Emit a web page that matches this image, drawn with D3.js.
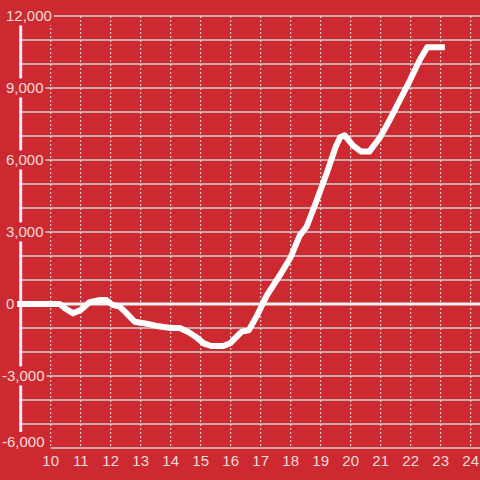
<!DOCTYPE html>
<html><head><meta charset="utf-8">
<script src="https://cdn.jsdelivr.net/npm/d3@7"></script>
<style>html,body{margin:0;padding:0;background:#cc2a30;}svg{display:block;}</style>
</head><body>
<script>
// Data: hour of day and value
const hours = [8.88,10.3,10.5,10.75,11.0,11.3,11.65,11.85,12.05,12.3,12.5,12.8,13.2,13.6,14.0,14.3,14.6,14.87,15.1,15.35,15.75,15.98,16.2,16.37,16.6,16.87,17.2,17.64,18.0,18.3,18.53,18.87,19.2,19.5,19.65,19.8,20.08,20.35,20.62,20.98,21.3,21.64,21.98,22.3,22.55,23.14];
const values = [0,0,-200,-390,-250,80,170,170,-30,-110,-350,-740,-820,-930,-1000,-1000,-1180,-1400,-1640,-1750,-1750,-1640,-1360,-1150,-1100,-500,350,1200,1950,2850,3220,4330,5450,6550,6950,7030,6600,6350,6350,6950,7670,8500,9330,10170,10700,10700];
const xTicks = [10,11,12,13,14,15,16,17,18,19,20,21,22,23,24];
const yGrid = d3.range(-6000, 12001, 1000);
const yLabels = [12000,9000,6000,3000,0,-3000,-6000];

const W = 480, H = 480, bg = "#cc2a30";
const x = d3.scaleLinear().domain([10, 24]).range([50.7, 470.7]);
const y = d3.scaleLinear().domain([-6000, 12000]).range([448, 16]);

const svg = d3.select("body").append("svg").attr("width", W).attr("height", H);
svg.append("rect").attr("width", W).attr("height", H).attr("fill", bg);

// horizontal gridlines
svg.append("g").selectAll("line").data(yGrid.filter(v => v !== 0 && v !== -6000)).join("line")
  .attr("x1", 22).attr("x2", W).attr("y1", d => y(d)).attr("y2", d => y(d))
  .attr("stroke", "#cfcfcf").attr("stroke-width", 1.5);
// bottom axis line
svg.append("line").attr("x1", x(10)).attr("x2", W).attr("y1", y(-6000)).attr("y2", y(-6000))
  .attr("stroke", "#cfcfcf").attr("stroke-width", 1.5);

// vertical dotted gridlines
svg.append("g").selectAll("line").data(xTicks).join("line")
  .attr("x1", d => x(d)).attr("x2", d => x(d)).attr("y1", y(12000)).attr("y2", y(-6000))
  .attr("stroke", "#e6e6e6").attr("stroke-width", 1).attr("stroke-dasharray", "2,2");

// zero line
svg.append("line").attr("x1", 22).attr("x2", W).attr("y1", y(0)).attr("y2", y(0))
  .attr("stroke", "#f2f2f2").attr("stroke-width", 3);

// y axis line
svg.append("line").attr("x1", 20.7).attr("x2", 20.7).attr("y1", y(12000)).attr("y2", y(-6000))
  .attr("stroke", "#eeeeee").attr("stroke-width", 3);

// data line
const pts = hours.map((h, i) => [h, values[i]]);
svg.append("path").datum(pts)
  .attr("d", d3.line().x(d => x(d[0])).y(d => y(d[1])).curve(d3.curveLinear))
  .attr("fill", "none").attr("stroke", "#ffffff").attr("stroke-width", 6)
  .attr("stroke-linejoin", "round").attr("stroke-linecap", "butt");

// y labels with background
const fmt = d3.format(",");
const ly = svg.append("g");
yLabels.forEach(v => {
  const g = ly.append("g");
  const base = Math.min(y(v) + 5.4, y(-6000) - 1);
  const t = g.append("text").attr("x", v < 0 ? 2 : 6).attr("y", base)
    .attr("font-family", "Liberation Sans, Arial, sans-serif").attr("font-size", 15)
    .attr("fill", "#f5dadb").text(fmt(v).replace("−", "-"));
  const b = t.node().getBBox();
  g.insert("rect", "text").attr("x", 0).attr("y", b.y - 1).attr("width", b.x + b.width + 2)
    .attr("height", b.height + 2).attr("fill", bg);
});

// x labels
svg.append("g").selectAll("text").data(xTicks).join("text")
  .attr("x", d => x(d)).attr("y", 466).attr("text-anchor", "middle")
  .attr("font-family", "Liberation Sans, Arial, sans-serif").attr("font-size", 15)
  .attr("fill", "#f5dadb").text(d => d);
</script>
</body></html>
